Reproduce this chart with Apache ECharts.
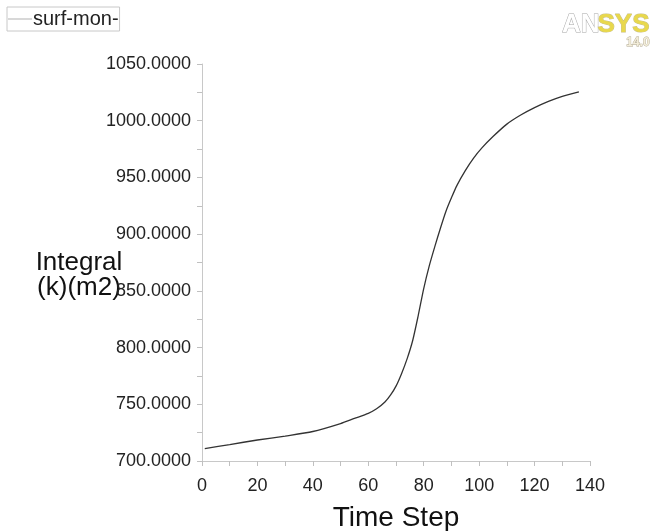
<!DOCTYPE html>
<html>
<head>
<meta charset="utf-8">
<script src="https://cdn.jsdelivr.net/npm/echarts@6/dist/echarts.min.js"></script>
<style>
html,body{margin:0;padding:0;background:#fff;}
#chart{width:651px;height:531px;}
</style>
</head>
<body>
<div id="chart"></div>
<script>
const seriesName = 'surf-mon-';
const timeSteps = [1, 10, 20, 30, 40, 50, 55, 60, 63, 66, 68, 70, 72, 74, 76, 78, 80, 82, 84, 86, 88, 90, 92, 95, 98, 101, 105, 110, 115, 120, 125, 130, 136];
const integralValues = [711, 714.5, 718.5, 722, 726, 733, 737.5, 742, 746, 752, 758, 766, 777, 790, 806, 828, 852, 872, 889, 905, 920, 932, 943, 956, 967, 976, 986, 997, 1005, 1011.5, 1017, 1021.5, 1025.5];
const xTicks = {min: 0, max: 140, interval: 20};
const yTicks = {min: 700, max: 1050, interval: 50};
const xName = 'Time Step';
const yName = 'Integral\n(k)(m2)';

const FONT = '"Liberation Sans", Arial, sans-serif';
const chart = echarts.init(document.getElementById('chart'), null, {renderer: 'canvas'});
const points = timeSteps.map((t, i) => [t, integralValues[i]]);

chart.setOption({
  animation: false,
  backgroundColor: '#ffffff',
  textStyle: {fontFamily: FONT},
  grid: {left: 202, right: 61, top: 64, bottom: 70, containLabel: false, outerBoundsMode: 'none'},
  legend: {
    left: 7, top: 7,
    orient: 'horizontal',
    borderColor: '#c8c8c8', borderWidth: 1,
    padding: [2, 1, 2, 1],
    itemWidth: 24, itemHeight: 1,
    textStyle: {fontSize: 20, color: '#222', fontFamily: FONT, padding: [0, 0, 0, -4]},
    data: [{name: seriesName, icon: 'rect', itemStyle: {color: '#b0b0b0'}}]
  },
  xAxis: {
    type: 'value',
    min: xTicks.min, max: xTicks.max, interval: xTicks.interval,
    name: xName, nameLocation: 'middle', nameGap: 43, nameMoveOverlap: false,
    nameTextStyle: {fontSize: 28, color: '#111', fontFamily: FONT},
    axisLine: {show: true, lineStyle: {color: '#c8c8c8', width: 1}},
    axisTick: {show: true, length: 5, lineStyle: {color: '#c0c0c0'}},
    minorTick: {show: true, splitNumber: 2, length: 5, lineStyle: {color: '#c0c0c0'}},
    splitLine: {show: false},
    axisLabel: {fontSize: 18, color: '#222', margin: 16, fontFamily: FONT}
  },
  yAxis: {
    type: 'value',
    min: yTicks.min, max: yTicks.max, interval: yTicks.interval,
    name: '\n' + yName, nameLocation: 'middle', nameRotate: 0, nameGap: 123, nameMoveOverlap: false,
    nameTextStyle: {fontSize: 26, lineHeight: 25, color: '#111', align: 'center', verticalAlign: 'middle', fontFamily: FONT},
    axisLine: {show: true, lineStyle: {color: '#c8c8c8', width: 1}},
    axisTick: {show: true, length: 5, lineStyle: {color: '#c0c0c0'}},
    minorTick: {show: true, splitNumber: 2, length: 5, lineStyle: {color: '#c0c0c0'}},
    splitLine: {show: false},
    axisLabel: {fontSize: 18, color: '#222', margin: 11, fontFamily: FONT, formatter: v => v.toFixed(4)}
  },
  graphic: [
    {type: 'text', right: 51, top: 11, style: {text: 'AN', font: 'bold 26px ' + FONT, fill: '#ffffff', stroke: '#a8a8a8', lineWidth: 1}},
    {type: 'text', right: 1, top: 11, style: {text: 'SYS', font: 'bold 26px ' + FONT, fill: '#e8d84c', stroke: '#c9c08a', lineWidth: 1}},
    {type: 'text', right: 1, top: 36, style: {text: '14.0', font: 'bold 12px ' + FONT, fill: '#f2ecd8', stroke: '#b0a890', lineWidth: 0.8}}
  ],
  series: [{
    name: seriesName,
    type: 'line',
    data: points,
    showSymbol: false,
    smooth: 0.25,
    lineStyle: {color: '#333333', width: 1.3},
    itemStyle: {color: '#333333'}
  }]
});
</script>
</body>
</html>
